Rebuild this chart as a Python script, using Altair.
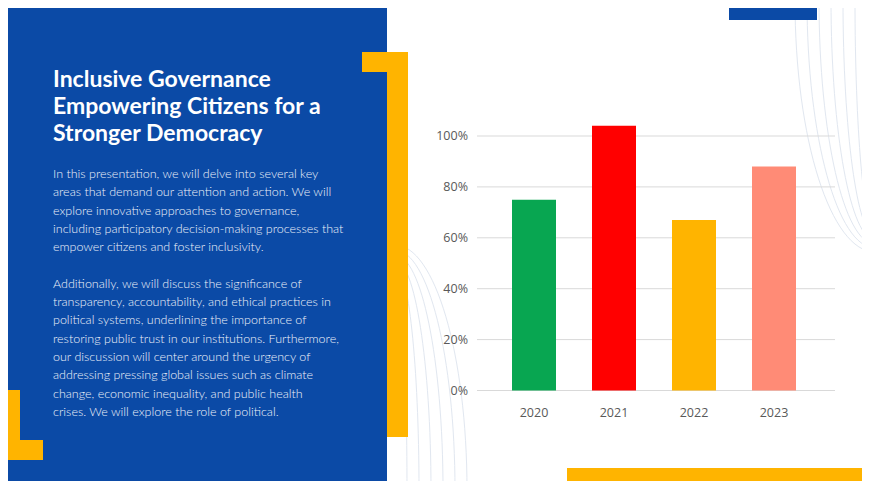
import altair as alt
import pandas as pd

# ---- data ----
years = ["2020", "2021", "2022", "2023"]
values = [0.75, 1.04, 0.67, 0.88]
bar_colors = ["#08A651", "#FF0000", "#FFB400", "#FF8B76"]
tick_values = [0.0, 0.2, 0.4, 0.6, 0.8, 1.0]
tick_labels = ["0%", "20%", "40%", "60%", "80%", "100%"]

title_lines = [
    "Inclusive Governance",
    "Empowering Citizens for a",
    "Stronger Democracy",
]
para1_lines = [
    "In this presentation, we will delve into several key",
    "areas that demand our attention and action. We will",
    "explore innovative approaches to governance,",
    "including participatory decision-making processes that",
    "empower citizens and foster inclusivity.",
]
para2_lines = [
    "Additionally, we will discuss the significance of",
    "transparency, accountability, and ethical practices in",
    "political systems, underlining the importance of",
    "restoring public trust in our institutions. Furthermore,",
    "our discussion will center around the urgency of",
    "addressing pressing global issues such as climate",
    "change, economic inequality, and public health",
    "crises. We will explore the role of political.",
]

BLUE = "#0B4AA6"
YELLOW = "#FFB400"
LINE = "#E1E7F0"
W, H = 854, 473

bars_df = pd.DataFrame({"year": years, "value": values, "color": bar_colors})
ticks_df = pd.DataFrame({"tick": tick_values, "label": tick_labels})

xscale = alt.Scale(domain=years, range=[504, 788], paddingInner=0.45, paddingOuter=0)
yscale = alt.Scale(domain=[0, 1], range=[382.5, 128], nice=False, zero=True)

one = alt.Data(values=[{"a": 1}])


def rect(x, x2, y, y2, color):
    return alt.Chart(one).mark_rect(color=color).encode(
        x=alt.value(x), x2=alt.value(x2), y=alt.value(y), y2=alt.value(y2)
    )


def ellipse_arc(cx, cy, a, b, side):
    k = a / b
    if side == "left":
        path = f"M 0 -1 A {k:.4f} 1 0 0 0 {-k:.4f} 0 A {k:.4f} 1 0 0 0 0 1"
    else:
        path = f"M 0 -1 A {k:.4f} 1 0 0 1 {k:.4f} 0 A {k:.4f} 1 0 0 1 0 1"
    return alt.Chart(one).mark_point(
        shape=path, filled=False, stroke=LINE, strokeWidth=1, opacity=1
    ).encode(x=alt.value(cx), y=alt.value(cy), size=alt.value(4 * b * b))


def text_block(lines, y, size, weight, color, lh):
    return alt.Chart(alt.Data(values=[{"t": "\n".join(lines)}])).mark_text(
        align="left", baseline="alphabetic", font="Lato", fontWeight=weight,
        fontSize=size, color=color, lineBreak="\n", lineHeight=lh,
    ).encode(x=alt.value(45), y=alt.value(y), text="t:N")


decor = []
# faint curves, top right
for i, a in enumerate([80, 68, 56, 44, 32, 20]):
    decor.append(ellipse_arc(867, -8, a, 252 - 4 * i, "left"))
# faint curves, bottom left (behind the yellow bar)
for i, a in enumerate([72, 60, 48, 36, 24, 12]):
    decor.append(ellipse_arc(387, 482, a, 245 - 5 * i, "right"))

layers = [
    rect(0, 379, 0, H, BLUE),
    rect(721, 809, 0, 12, BLUE),
    rect(379, 400, 44, 429, YELLOW),
    rect(354, 400, 44, 64, YELLOW),
    rect(0, 12, 382, 452, YELLOW),
    rect(0, 35, 432, 452, YELLOW),
    rect(559, W, 460, H, YELLOW),
]

grid = alt.Chart(ticks_df).mark_rule(color="#D9D9D9", strokeWidth=1).encode(
    y=alt.Y("tick:Q", scale=yscale, axis=None),
    x=alt.value(469),
    x2=alt.value(827),
)

bars = alt.Chart(bars_df).mark_bar().encode(
    x=alt.X("year:N", scale=xscale, axis=None),
    y=alt.Y("value:Q", scale=yscale, axis=None),
    color=alt.Color("color:N", scale=None, legend=None),
)

ylabels = alt.Chart(ticks_df).mark_text(
    align="right", baseline="middle", font="Open Sans", fontSize=12.5, color="#595959"
).encode(
    y=alt.Y("tick:Q", scale=yscale, axis=None),
    x=alt.value(460),
    text="label:N",
)

xlabels = alt.Chart(bars_df).mark_text(
    align="center", baseline="middle", font="Open Sans", fontSize=12.5, color="#595959"
).encode(
    x=alt.X("year:N", scale=xscale, axis=None),
    y=alt.value(405),
    text="year:N",
)

title = text_block(title_lines, 79, 23, "bold", "#FFFFFF", 27)
body1 = text_block(para1_lines, 170, 12.5, 300, "#EEF2FA", 18.3)
body2 = text_block(para2_lines, 170 + 6 * 18.3, 12.5, 300, "#EEF2FA", 18.3)

chart = alt.layer(
    *decor, *layers, grid, bars, ylabels, xlabels, title, body1, body2
).properties(
    width=W, height=H, autosize=alt.AutoSizeParams(type="none"), padding=0,
    background="#FFFFFF",
).configure_view(stroke=None)

chart.save("out.html", embed_options={"renderer": "svg", "actions": False})
